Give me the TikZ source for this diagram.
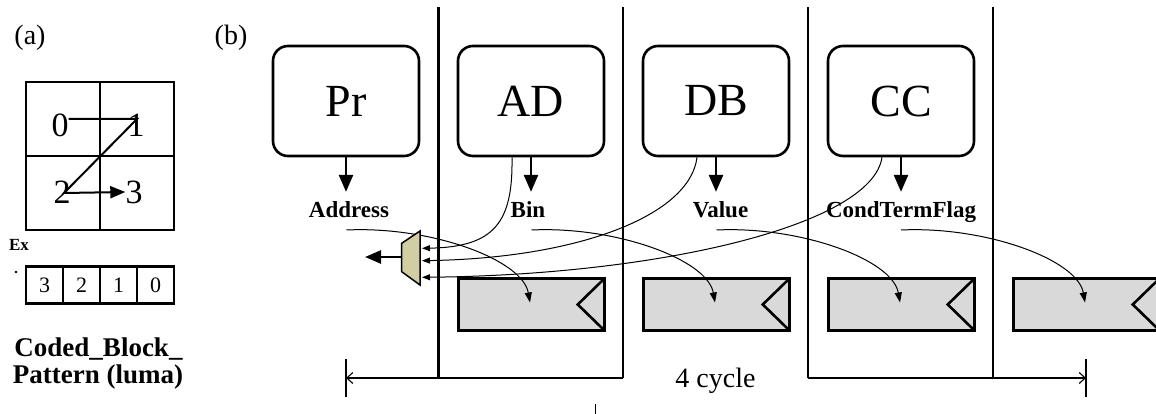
\documentclass[tikz,border=0pt]{standalone}
\usepackage{fontspec}
\setmainfont{Liberation Serif}
\usetikzlibrary{arrows.meta,calc}
\definecolor{muxfill}{HTML}{D2CEA4}
\begin{document}
\begin{tikzpicture}[x=1pt,y=-1pt,
  thickline/.style={line width=2.6pt},
  stage/.style={draw, line width=2.6pt, rounded corners=15pt,
    minimum width=146pt, minimum height=110pt, inner sep=0pt,
    font=\fontsize{46}{46}\selectfont},
  sig/.style={font=\bfseries\fontsize{23}{23}\selectfont, inner sep=0pt, anchor=base},
  gbox/.style={draw, fill=black!15, line width=2.6pt, outer sep=0pt,
    minimum width=146.5pt, minimum height=52.5pt, inner sep=0pt},
  notch/.style={line width=2.6pt, line join=miter},
  downarrow/.style={line width=2.6pt, -{Triangle[length=17pt,width=14pt]}},
  thinarrow/.style={line width=1pt, -{Triangle[length=10pt,width=7pt]}},
  muxin/.style={line width=1pt, -{Triangle[length=8pt,width=6pt]}},
  dimline/.style={line width=1.1pt},
  barb/.tip={Straight Barb[length=6pt,width=11pt]},
  digit/.style={font=\fontsize{34}{34}\selectfont, inner sep=0pt},
  cell/.style={draw, line width=2.3pt, minimum width=37pt, minimum height=37pt,
    inner sep=0pt, font=\fontsize{22}{22}\selectfont},
  caption/.style={font=\bfseries\fontsize{27}{27}\selectfont, inner sep=0pt, anchor=base},
  panel/.style={font=\fontsize{28}{28}\selectfont, inner sep=0pt, anchor=base}
]
\useasboundingbox (0,0) rectangle (1156,414);
\clip (0,0) rectangle (1156,414);

% ---------------- panel (a) ----------------
\node[panel] (pa) at (30,45) {(a)};

\draw[thickline] (26,82) rectangle (174,230);
\draw[thickline] (100,82) -- (100,230);
\draw[thickline] (26,156) -- (174,156);

\node[digit] (d0) at (60,125) {0};
\node[digit] (d1) at (136,125) {1};
\node[digit] (d2) at (62,192) {2};
\node[digit] (d3) at (134,192) {3};

\draw[line width=2pt, line join=miter, -{Triangle[length=15pt,width=12pt]}]
  ([yshift=6pt]d0.east) -- ([xshift=1pt,yshift=6pt]d1.center)
  -- ([xshift=2pt,yshift=-1pt]d2.center) -- (d3.west);

\node[font=\bfseries\fontsize{17}{17}\selectfont, inner sep=0pt, anchor=base] (ex) at (19,250) {Ex};
\fill (16,272) circle (1.3pt);

\node[cell] (c3) at (44.5,285) {3};
\node[cell] (c2) at (81.5,285) {2};
\node[cell] (c1) at (118.5,285) {1};
\node[cell] (c0) at (155.5,285) {0};

\node[caption] (cap1) at (98.5,356) {Coded\_Block\_};
\node[caption] (cap2) at (98,383) {Pattern (luma)};

% ---------------- panel (b) ----------------
\node[panel] (pb) at (231,45) {(b)};

% pipeline stage boundaries
\foreach \n/\x in {1/438.5,2/623,3/808,4/993} {
  \coordinate (v\n t) at (\x,7);
  \coordinate (v\n b) at (\x,378);
  \draw[thickline] (v\n t) -- (v\n b);
}

% stage blocks
\node[stage] (pr) at (346,101) {Pr};
\node[stage] (ad) at (531,101) {AD};
\node[stage] (db) at (716,101) {DB};
\node[stage] (cc) at (901,101) {CC};

% stage outputs
\node[sig] (addr) at (349,218) {Address};
\node[sig] (bin)  at (528,218) {Bin};
\node[sig] (val)  at (720.5,218) {Value};
\node[sig] (ctf)  at (901,218) {CondTermFlag};

\foreach \b/\l in {pr/addr,ad/bin,db/val,cc/ctf}
  \draw[downarrow, shorten >=10pt] (\b.south) -- (\b.south |- \l.north);

% registers
\foreach \n/\x in {1/531.5,2/716.5,3/901.5,4/1086.5} {
  \node[gbox] (g\n) at (\x,304.5) {};
  \draw[notch] (g\n.north east) -- ([xshift=-27pt]g\n.east) -- (g\n.south east);
}

% signals latched into the next register
\coordinate (s1) at (346.5,230);
\coordinate (s2) at (531.5,230);
\coordinate (s3) at (716.5,230);
\coordinate (s4) at (901,230);
\foreach \n in {1,2,3,4}
  \draw[thinarrow] (s\n) .. controls ($(s\n)+(84,-4)$) and ($(g\n.center)+(-9,-45)$) .. ([shift={(-1.5,-2)}]g\n.center);

% multiplexer
\draw[fill=muxfill, line width=1.5pt, line join=miter]
  (420,231) -- (420,285) -- (401.7,271.7) -- (401.7,243.3) -- cycle;
\coordinate (m1) at (422,248.3);
\coordinate (m2) at (422,260.7);
\coordinate (m3) at (422,277.3);
\coordinate (mo) at (401,257);
\coordinate (mout) at (365,257);
\draw[line width=2.6pt, -{Triangle[length=16pt,width=13pt]}] (mo) -- (mout);

% feedback paths into the multiplexer
\draw[muxin] ([xshift=-19pt]ad.south) .. controls (513,222) and (495,247) .. (m1);
\draw[muxin] ([xshift=-19pt]db.south) .. controls (690,215) and (580,258) .. (m2);
\draw[muxin] ([xshift=-19pt]cc.south) .. controls (872,225) and (660,275) .. (m3);

% cycle dimension
\coordinate (dl) at (346,378);
\coordinate (dr) at (1086,378);
\coordinate (tl1) at (346,359);
\coordinate (tl2) at (346,397);
\coordinate (tr1) at (1086,359);
\coordinate (tr2) at (1086,397);
\draw[dimline] (tl1) -- (tl2);
\draw[dimline] (tr1) -- (tr2);
\draw[dimline, {barb}-] (dl) -- (v2b);
\draw[dimline, -{barb}] (v3b) -- (dr);
\node[font=\fontsize{28}{28}\selectfont, inner sep=0pt, anchor=base] (cyc) at (715.5,387) {4 cycle};

\coordinate (k1) at (595,404);
\coordinate (k2) at (595,414);
\draw[line width=1pt] (k1) -- (k2);
\end{tikzpicture}
\end{document}
